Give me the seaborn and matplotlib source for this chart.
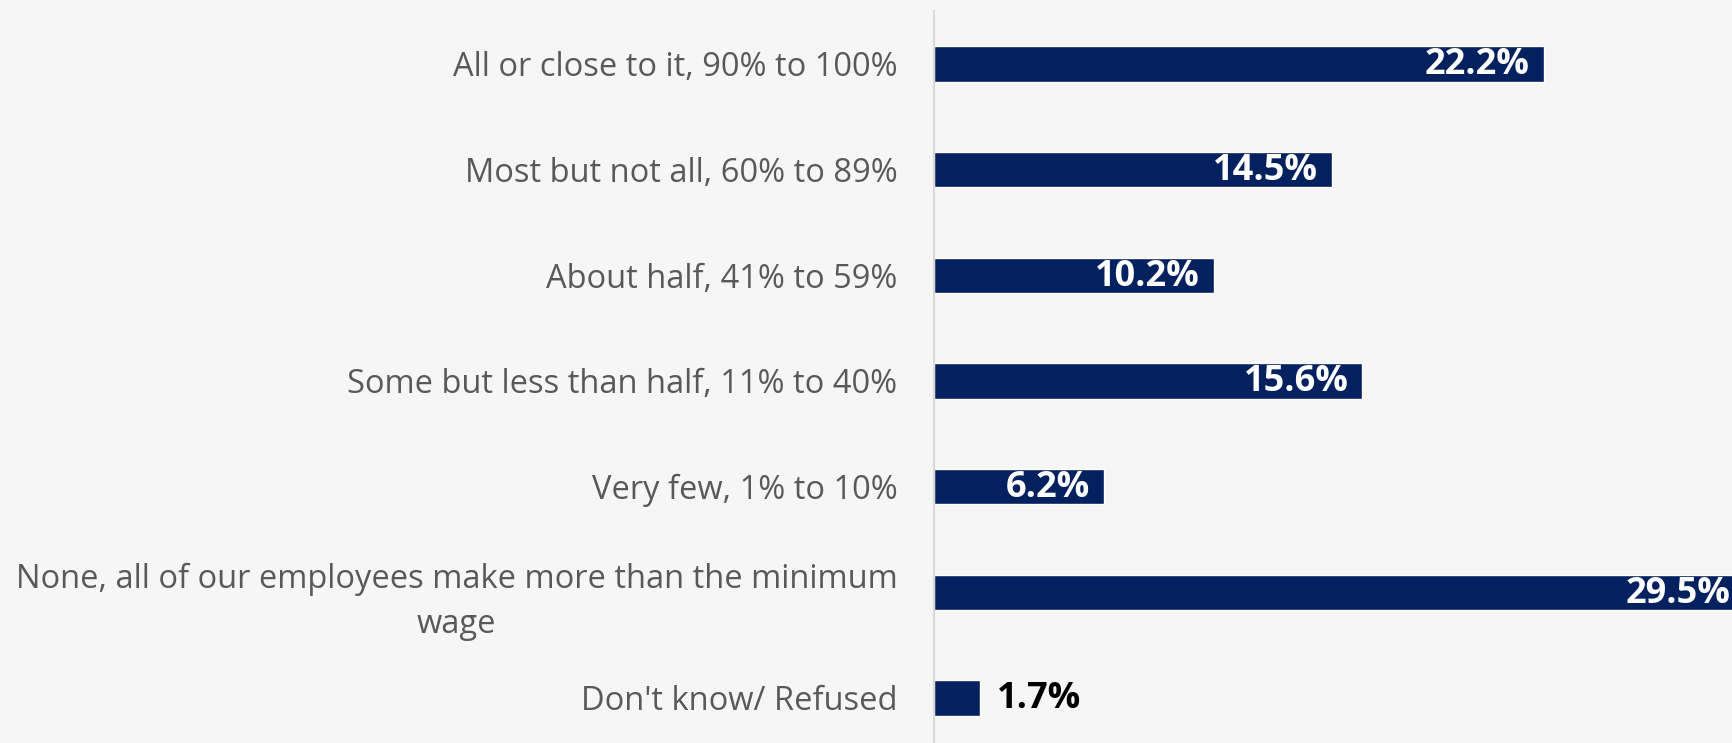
import matplotlib
matplotlib.use("Agg")
import matplotlib.pyplot as plt
import seaborn as sns
import pandas as pd

categorias = [
    "All or close to it, 90% to 100%",
    "Most but not all, 60% to 89%",
    "About half, 41% to 59%",
    "Some but less than half, 11% to 40%",
    "Very few, 1% to 10%",
    "None, all of our employees make more than the minimum\nwage",
    "Don't know/ Refused",
]
valores = [22.2, 14.5, 10.2, 15.6, 6.2, 29.5, 1.7]
etiquetas = ["22.2%", "14.5%", "10.2%", "15.6%", "6.2%", "29.5%", "1.7%"]

df = pd.DataFrame({"categoria": categorias, "valor": valores})

sns.set_style("white")
plt.rcParams["font.family"] = ["Open Sans", "DejaVu Sans"]

fondo = "#f6f6f6"
azul = "#03205f"

fig = plt.figure(figsize=(17.32, 7.43), dpi=100, facecolor=fondo)
ax = fig.add_axes([0.539, -0.0104, 0.468, 0.9955])
ax.set_facecolor(fondo)

sns.barplot(data=df, x="valor", y="categoria", orient="h", color=azul,
            width=0.335, saturation=1, ax=ax)

ax.set_xlim(0, 29.5)
ax.set_ylim(6.5, -0.5)
ax.set_xlabel("")
ax.set_ylabel("")
ax.set_xticks([])
for lado in ["top", "right", "bottom"]:
    ax.spines[lado].set_visible(False)
ax.spines["left"].set_color("#d9d9d9")
ax.spines["left"].set_linewidth(1.5)

ax.tick_params(axis="y", length=0, pad=26)
for t in ax.get_yticklabels():
    t.set_fontsize(23.5)
    t.set_color("#595959")
    t.set_multialignment("center")
    t.set_linespacing(1.45)

for barra, valor, texto in zip(ax.patches, valores, etiquetas):
    y = barra.get_y() + barra.get_height() / 2
    fin = barra.get_width()
    if valor < 3:
        ax.annotate(texto, xy=(fin, y), xytext=(12, -1), textcoords="offset points",
                    ha="left", va="center", color="black", fontsize=26,
                    fontweight="bold", annotation_clip=False)
    else:
        ax.annotate(texto, xy=(fin, y), xytext=(-10, -1), textcoords="offset points",
                    ha="right", va="center", color="white", fontsize=26,
                    fontweight="bold")

fig.savefig("out.png", dpi=100, facecolor=fondo)
